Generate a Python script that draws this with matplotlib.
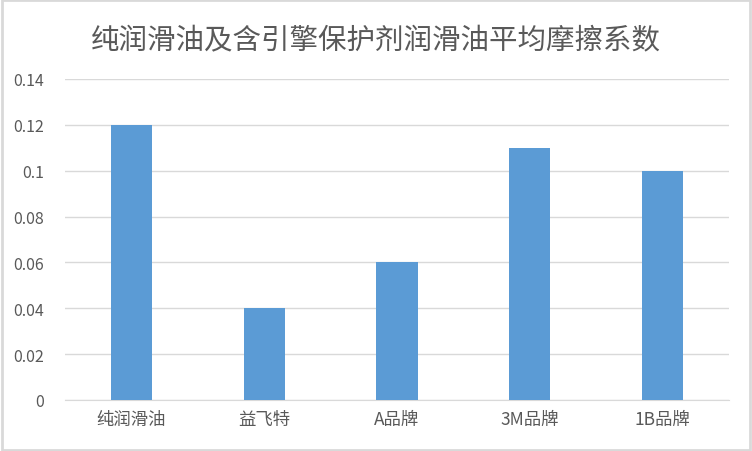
import matplotlib
matplotlib.use('Agg')
import matplotlib.pyplot as plt
from matplotlib.patches import Rectangle

plt.rcParams['font.family'] = ['Noto Sans CJK SC', 'DejaVu Sans']

categories = ['纯润滑油', '益飞特', 'A品牌', '3M品牌', '1B品牌']
values = [0.12, 0.04, 0.06, 0.11, 0.10]
yticks = [0, 0.02, 0.04, 0.06, 0.08, 0.1, 0.12, 0.14]
ytick_labels = ['0', '0.02', '0.04', '0.06', '0.08', '0.1', '0.12', '0.14']
title = '纯润滑油及含引擎保护剂润滑油平均摩擦系数'

text_color = '#595959'
grid_color = '#d9d9d9'

fig = plt.figure(figsize=(7.52, 4.52), dpi=100)
ax = fig.add_axes([65 / 752, 1 - 401 / 452, 664 / 752, 321 / 452])

ax.bar(range(len(categories)), values, width=0.31, color='#5b9bd5', zorder=3)

ax.set_xlim(-0.5, len(categories) - 0.5)
ax.set_ylim(0, 0.14)
ax.set_yticks(yticks)
ax.set_yticklabels(ytick_labels)
ax.set_xticks(range(len(categories)))
ax.set_xticklabels(categories)
ax.tick_params(axis='both', length=0, labelsize=11.5, labelcolor=text_color)
ax.tick_params(axis='x', labelsize=12.5, pad=7)
ax.tick_params(axis='y', pad=15)
ax.yaxis.grid(True, color=grid_color, linewidth=1, zorder=0)
for s in ['top', 'right', 'left']:
    ax.spines[s].set_visible(False)
ax.spines['bottom'].set_color(grid_color)

fig.text(0.5, 1 - 40 / 452, title, ha='center', va='center', fontsize=20.5, color=text_color)

# light outer frame like the chart area border
fig.patches.append(Rectangle((0.002, 0.003), 0.995, 0.994, transform=fig.transFigure,
                             fill=False, edgecolor=grid_color, linewidth=2))

fig.savefig('out.png', dpi=100)
